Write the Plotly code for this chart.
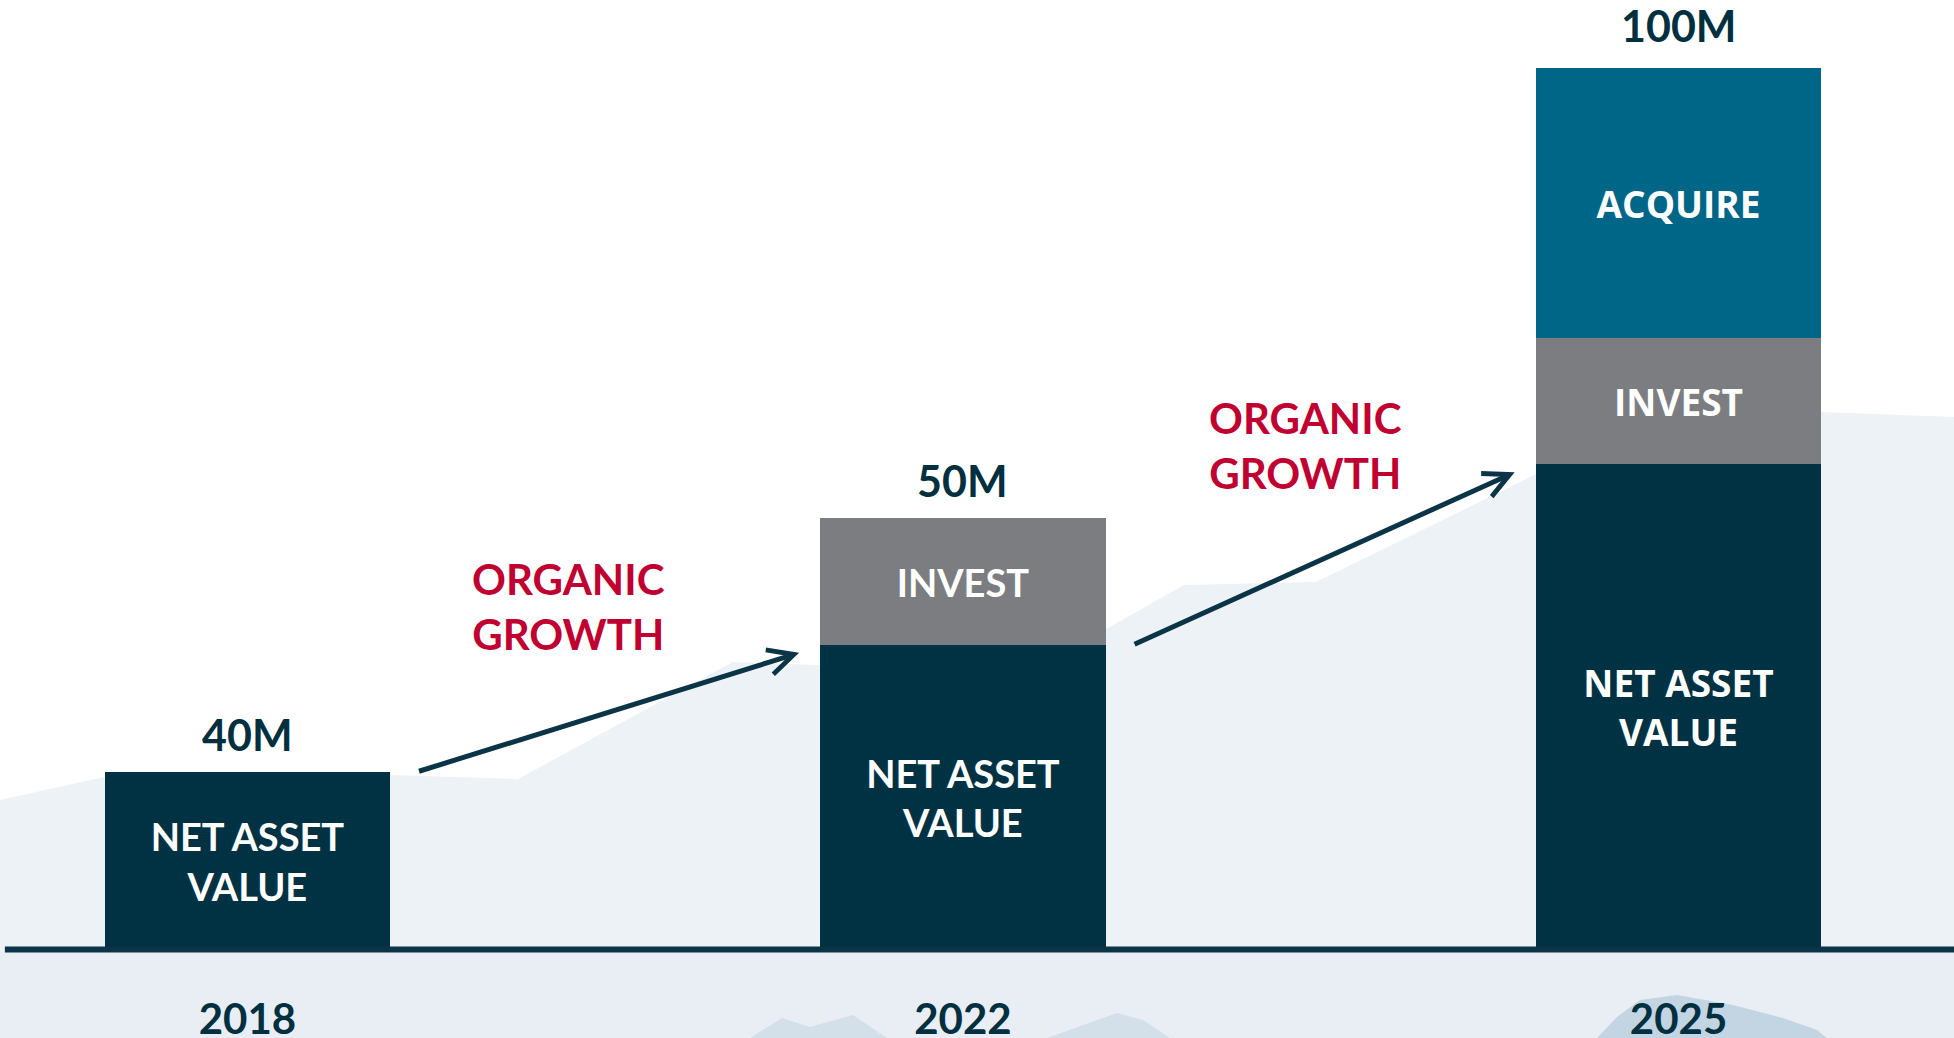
import plotly.graph_objects as go

# ---------------- data ----------------
years = ["2018", "2022", "2025"]
nav_values = [20.2, 34.6, 55.1]          # NET ASSET VALUE segment (chart units)
invest_values = [None, 14.4, 14.3]       # INVEST segment
acquire_values = [None, None, 30.7]      # ACQUIRE segment
total_labels = ["40M", "50M", "100M"]
nav_text = ["NET ASSET<br>VALUE", "NET ASSET<br>VALUE", "NET ASSET<br>VALUE"]
invest_text = ["", "INVEST", "INVEST"]
acquire_text = ["", "", "ACQUIRE"]
growth_label = "ORGANIC<br>GROWTH"

# ---------------- styles ----------------
W, H = 1954, 1038
NAV_C = "#003244"
INV_C = "#7c7d81"
ACQ_C = "#006688"
RED = "#c00030"
DARK = "#00303f"
LINE_C = "#0b3547"
CAL = "Lato"
SEG = "Open Sans"

Y0, Y1 = -10.04, 107.84
X0, X1 = -0.3458, 2.385
BAR_W = 0.399

def px_path(pts):
    s = ""
    for i, (x, y) in enumerate(pts):
        s += ("M" if i == 0 else "L") + f"{x / W:.5f},{1 - y / H:.5f}"
    return s + "Z"

fig = go.Figure()

fig.add_trace(go.Bar(
    x=years, y=nav_values, width=BAR_W, name="NET ASSET VALUE",
    marker=dict(color=NAV_C, line=dict(width=0)),
    text=nav_text, textposition="inside", insidetextanchor="middle", textangle=0,
    textfont=dict(color="white", family=[CAL, CAL, SEG], size=[38, 38, 37], weight=700),
    hoverinfo="skip",
))
fig.add_trace(go.Bar(
    x=years, y=invest_values, width=BAR_W, name="INVEST",
    marker=dict(color=INV_C, line=dict(width=0)),
    text=invest_text, textposition="inside", insidetextanchor="middle", textangle=0,
    textfont=dict(color="white", family=[CAL, CAL, SEG], size=[38, 38, 37], weight=700),
    hoverinfo="skip",
))
fig.add_trace(go.Bar(
    x=years, y=acquire_values, width=BAR_W, name="ACQUIRE",
    marker=dict(color=ACQ_C, line=dict(width=0)),
    text=acquire_text, textposition="inside", insidetextanchor="middle", textangle=0,
    textfont=dict(color="white", family=SEG, size=37, weight=700),
    hoverinfo="skip",
))

# background mountains
shapes = []
mountain = [(0, 800), (104, 777), (390, 775), (518, 779), (733, 662), (818, 665),
            (1106, 629), (1184, 585), (1316, 582), (1400, 541), (1536, 474),
            (1822, 412), (1954, 417), (1954, 952), (0, 952)]
shapes.append(dict(type="path", path=px_path(mountain), xref="paper", yref="paper",
                   fillcolor="#edf2f6", line=dict(width=0), layer="below"))
shapes.append(dict(type="rect", x0=0, x1=1, y0=0, y1=1 - 952 / H, xref="paper", yref="paper",
                   fillcolor="#e8eef4", line=dict(width=0), layer="below"))
peaks1 = [(750, 1038), (782, 1018), (810, 1027), (853, 1015), (887, 1038)]
peaks2 = [(1047, 1038), (1117, 1013), (1143, 1020), (1170, 1038)]
peaks3 = [(1597, 1038), (1617, 1017), (1640, 1000), (1677, 995), (1733, 1005),
          (1783, 1018), (1817, 1030), (1827, 1038)]
for pk, col in [(peaks1, "#d3dfe9"), (peaks2, "#d3dfe9"), (peaks3, "#c3d4e2")]:
    shapes.append(dict(type="path", path=px_path(pk), xref="paper", yref="paper",
                       fillcolor=col, line=dict(width=0), layer="below"))
# baseline
shapes.append(dict(type="line", xref="paper", yref="y", x0=0.0025, x1=1, y0=0, y1=0,
                   line=dict(color=LINE_C, width=6), layer="above"))

annotations = []
totals = [sum(v for v in vals if v is not None)
          for vals in zip(nav_values, invest_values, acquire_values)]
for i, (yr, tot, lab) in enumerate(zip(years, totals, total_labels)):
    annotations.append(dict(x=i, y=tot, xref="x", yref="y", text=lab, showarrow=False,
                            yanchor="bottom", yshift=10 if i < 2 else 15,
                            font=dict(family=CAL, size=43, color=DARK, weight=700)))

# organic growth arrows, from NAV top of one bar to the next
for i in range(len(years) - 1):
    annotations.append(dict(x=i + 1 - 0.229, y=nav_values[i + 1] - 0.9, xref="x", yref="y",
                            ax=i + 0.2377, ay=nav_values[i], axref="x", ayref="y",
                            text="", showarrow=True, arrowhead=5, arrowsize=1.0,
                            arrowwidth=5, arrowcolor=LINE_C, standoff=0))
annotations.append(dict(x=0.4488, y=39.0, xref="x", yref="y", text=growth_label,
                        showarrow=False, align="center",
                        font=dict(family=CAL, size=42, color=RED, weight=700)))
annotations.append(dict(x=1.478, y=57.3, xref="x", yref="y", text=growth_label,
                        showarrow=False, align="center",
                        font=dict(family=CAL, size=42, color=RED, weight=700)))

fig.update_layout(
    width=W, height=H, margin=dict(l=0, r=0, t=0, b=0, autoexpand=False),
    paper_bgcolor="white", plot_bgcolor="rgba(0,0,0,0)",
    barmode="stack", showlegend=False, bargap=0,
    shapes=shapes, annotations=annotations,
    xaxis=dict(type="category", categoryorder="array", categoryarray=years,
               range=[X0, X1], showgrid=False, zeroline=False, showline=False,
               ticks="", anchor="free", position=(H - 949.6) / H,
               ticklabelstandoff=41, automargin=False,
               tickfont=dict(family=CAL, size=42, color=DARK, weight=700),
               fixedrange=True),
    yaxis=dict(range=[Y0, Y1], visible=False, fixedrange=True, automargin=False),
    uniformtext=dict(mode=False),
)

fig.write_html("out.html", config={"displayModeBar": False},
               post_script="document.body.style.margin='0';")
